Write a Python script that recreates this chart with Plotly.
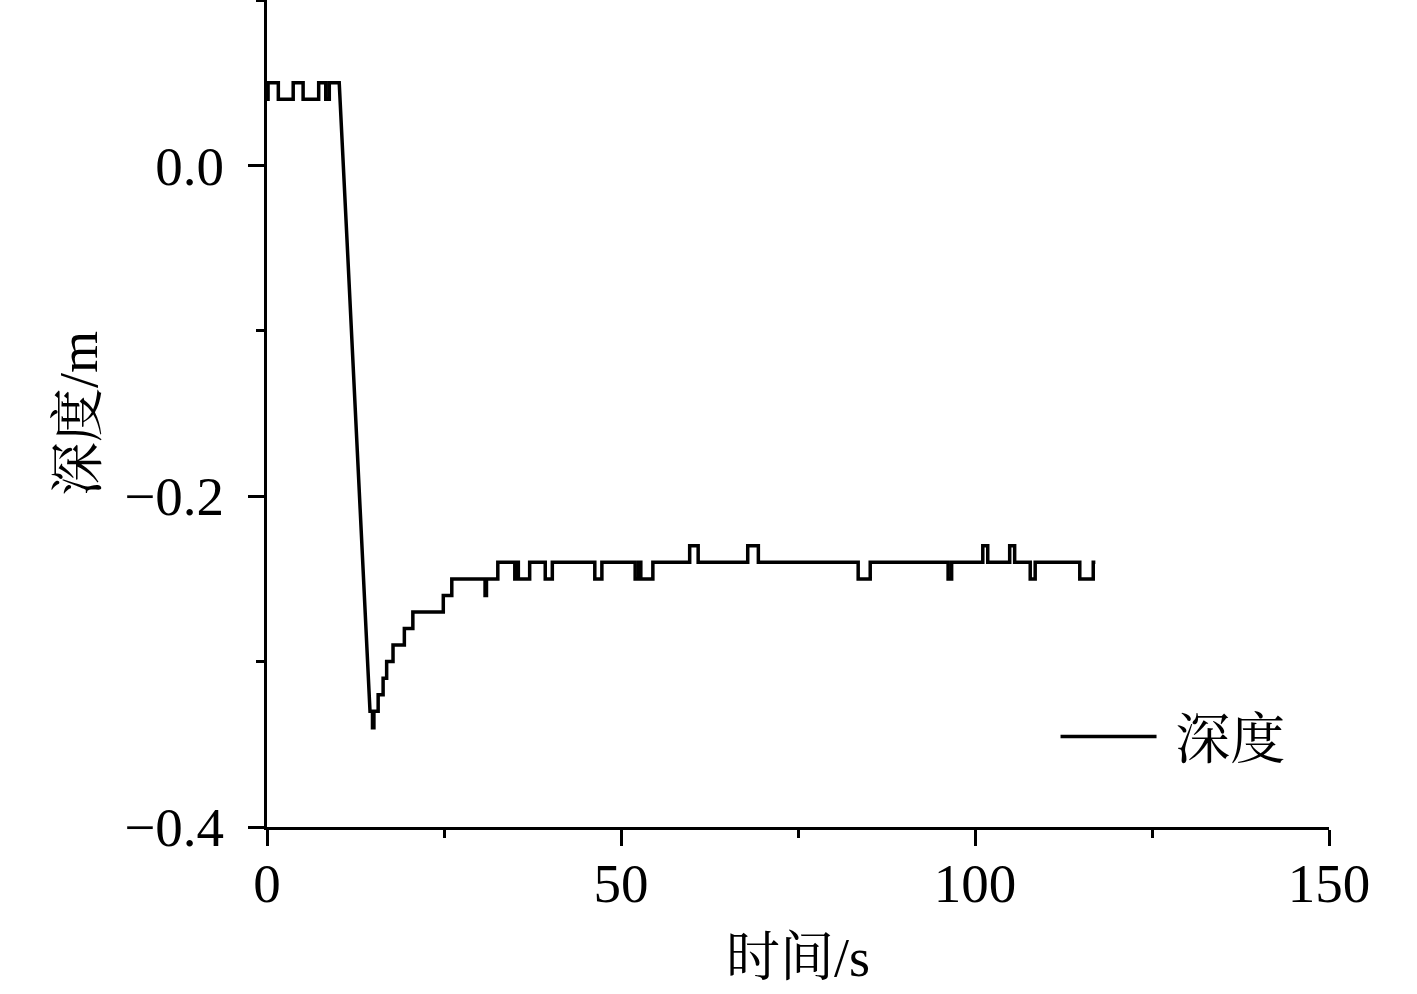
import plotly.graph_objects as go

# Depth record. Step segments: value held until next change.
pre_time = [0.0, 0.15, 1.6, 3.7, 5.1, 7.3, 8.3, 8.8, 10.2]
pre_depth = [0.04, 0.05, 0.04, 0.05, 0.04, 0.05, 0.04, 0.05, 0.05]

# Rapid dive (continuous samples)
dive_time = [10.2, 11.3, 12.4, 13.5, 14.55]
dive_depth = [0.05, -0.045, -0.14, -0.235, -0.33]

# Recovery and hold (step changes)
rec_time = [
    14.55, 14.9, 15.1, 15.7, 16.4, 16.9, 17.8, 19.4, 20.6, 24.9, 26.1,
    30.8, 31.0, 32.6, 35.0, 35.3, 35.5, 37.1, 39.3, 40.3, 46.3, 47.3,
    52.0, 52.5, 52.8, 54.5, 59.7, 60.9, 67.9, 69.4, 83.5, 85.2,
    96.2, 96.7, 101.1, 101.8, 104.9, 105.6, 107.8, 108.5, 114.8, 116.7, 117.0,
]
rec_depth = [
    -0.33, -0.34, -0.33, -0.32, -0.31, -0.30, -0.29, -0.28, -0.27, -0.26, -0.25,
    -0.26, -0.25, -0.24, -0.25, -0.24, -0.25, -0.24, -0.25, -0.24, -0.25, -0.24,
    -0.25, -0.24, -0.25, -0.24, -0.23, -0.24, -0.23, -0.24, -0.25, -0.24,
    -0.25, -0.24, -0.23, -0.24, -0.23, -0.24, -0.25, -0.24, -0.25, -0.24, -0.24,
]

series_name = "深度"
x_title = "时间/s"
y_title = "深度/m"


def expand_steps(ts, vs):
    """Turn change points into a held-value (step) path."""
    xs, ys = [ts[0]], [vs[0]]
    for i in range(1, len(ts)):
        xs += [ts[i], ts[i]]
        ys += [vs[i - 1], vs[i]]
    return xs, ys


px_, py_ = expand_steps(pre_time, pre_depth)
rx_, ry_ = expand_steps(rec_time, rec_depth)
x_all = px_ + dive_time[1:] + rx_[1:]
y_all = py_ + dive_depth[1:] + ry_[1:]

FONT = "Liberation Serif, 'Times New Roman', 'Noto Serif CJK SC', 'Noto Sans CJK SC', serif"

fig = go.Figure()
fig.add_trace(go.Scatter(
    x=x_all, y=y_all, mode="lines", name="\u00a0" + series_name,
    line=dict(color="black", width=3.5),
))

axis_common = dict(
    showline=True, linecolor="black", linewidth=3,
    ticks="outside", ticklen=16, tickwidth=3, tickcolor="black",
    showgrid=False, zeroline=False, mirror=False, automargin=False,
    tickfont=dict(family=FONT, size=55, color="black"),
)

fig.update_layout(
    width=1417, height=994,
    paper_bgcolor="white", plot_bgcolor="white",
    margin=dict(l=267, r=88, t=0, b=167, pad=0),
    font=dict(family=FONT, color="black", size=55),
    xaxis=dict(
        range=[0, 150], tickvals=[0, 50, 100, 150],
        minor=dict(tickvals=[25, 75, 125], ticks="outside", ticklen=8,
                   tickwidth=3, tickcolor="black"),
        title=dict(text=x_title, font=dict(family=FONT, size=54), standoff=26),
        ticklabelstandoff=-10,
        **axis_common,
    ),
    yaxis=dict(
        range=[-0.4, 0.1], tickvals=[-0.4, -0.2, 0.0], tickformat=".1f",
        minor=dict(tickvals=[-0.3, -0.1, 0.1], ticks="outside", ticklen=8,
                   tickwidth=3, tickcolor="black"),
        title=dict(text=y_title, font=dict(family=FONT, size=54), standoff=10),
        ticklabelstandoff=13,
        **axis_common,
    ),
    showlegend=True,
    legend=dict(
        x=0.7425, y=0.109, xanchor="left", yanchor="middle",
        bgcolor="rgba(0,0,0,0)", borderwidth=0,
        font=dict(family=FONT, size=55, color="black"),
        itemwidth=96,
    ),
)

fig.write_html(
    "out.html",
    config={"displayModeBar": False},
    post_script="document.body.style.margin='0';document.body.style.padding='0';",
)
